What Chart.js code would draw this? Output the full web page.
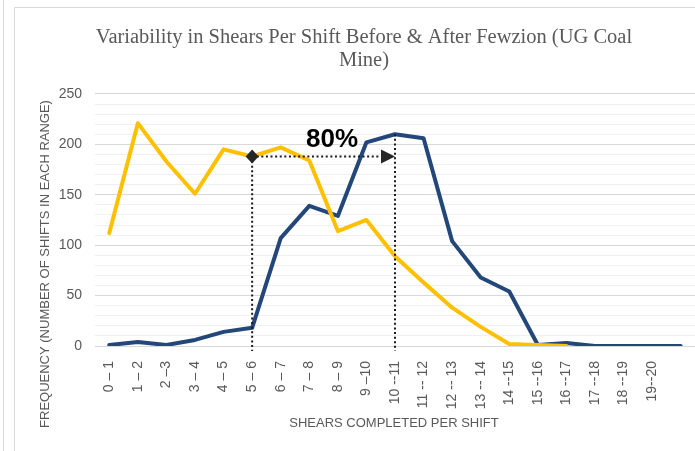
<!DOCTYPE html>
<html>
<head>
<meta charset="utf-8">
<script src="https://cdn.jsdelivr.net/npm/chart.js@4/dist/chart.umd.min.js"></script>
<style>
  html, body { margin: 0; padding: 0; background: #fff; }
  #wrap { width: 695px; height: 451px; }
</style>
</head>
<body>
<div id="wrap"><canvas id="chart" width="695" height="451"></canvas></div>
<script>
// shear ranges (last slot has no label in the original)
const ranges = [
  '0 \u2013 1', '1 \u2013 2', '2 \u20133', '3 \u2013 4', '4 \u2013 5', '5 \u2013 6',
  '6 \u2013 7', '7 \u2013 8', '8 \u2013 9', '9 \u201310', '10 --11', '11 -- 12',
  '12 -- 13', '13 -- 14', '14 --15', '15 --16', '16 --17', '17 --18', '18 --19',
  '19--20', ''
];
// yellow line disappears under the blue one after 16-17
const beforeFewzion = [112, 221, 183, 151, 195, 188, 197, 184, 114, 125, 89, 63, 38, 19, 2, 1, 0, null, null, null, null];
const afterFewzion  = [1, 4, 1, 6, 14, 18, 107, 139, 129, 202, 210, 206, 104, 68, 54, 1, 3, 0, 0, 0, 0];
const yTicks = [0, 50, 100, 150, 200, 250];

// the "80%" marker: from range 5-6 to range 10-11
const markFrom = 5;
const markTo = 10;
const markLevel = 188;
const markTop = 210;
const markText = '80%';

const xTitle = 'SHEARS COMPLETED PER SHIFT';
const yTitle = 'FREQUENCY (NUMBER OF SHIFTS IN EACH RANGE)';

const greyText = '#595959';
const axisFont = "'Liberation Sans', sans-serif";

const framePlugin = {
  id: 'frame',
  beforeDraw(chart) {
    const c = chart.ctx;
    c.save();
    c.fillStyle = '#fff';
    c.fillRect(0, 0, chart.width, chart.height);
    c.strokeStyle = '#d9d9d9';
    c.lineWidth = 1;
    c.beginPath();
    c.moveTo(3.5, 0); c.lineTo(3.5, chart.height);
    c.moveTo(14.5, chart.height); c.lineTo(14.5, 7.5); c.lineTo(chart.width, 7.5);
    c.stroke();
    c.restore();
  },
  afterDraw(chart) {
    // axis titles, placed like the office chart (not centred on the plot)
    const c = chart.ctx;
    c.save();
    c.fillStyle = greyText;
    c.font = '13px ' + axisFont;
    c.textAlign = 'center';
    c.textBaseline = 'middle';
    c.fillText(xTitle, 394, 423);
    c.translate(45, 264);
    c.rotate(-Math.PI / 2);
    c.fillText(yTitle, 0, 0);
    c.restore();
  }
};

const markerPlugin = {
  id: 'marker',
  afterDatasetsDraw(chart) {
    const c = chart.ctx;
    const x = chart.scales.x, y = chart.scales.y;
    const xs = x.getPixelForValue(markFrom);
    const xe = x.getPixelForValue(markTo);
    const yl = y.getPixelForValue(markLevel);
    const yt = y.getPixelForValue(markTop);
    const yb = y.bottom + 5;
    c.save();
    c.strokeStyle = '#1a1a1a';
    c.fillStyle = '#262626';
    c.lineWidth = 2;
    c.setLineDash([2, 2.6]);
    c.beginPath();
    c.moveTo(xs, yl); c.lineTo(xs, yb);
    c.moveTo(xe, yt); c.lineTo(xe, yb);
    c.moveTo(xs, yl); c.lineTo(xe - 14, yl);
    c.stroke();
    c.setLineDash([]);
    // diamond start
    c.beginPath();
    c.moveTo(xs, yl - 7); c.lineTo(xs + 6.5, yl); c.lineTo(xs, yl + 7); c.lineTo(xs - 6.5, yl);
    c.closePath(); c.fill();
    // arrow head
    c.beginPath();
    c.moveTo(xe, yl); c.lineTo(xe - 14, yl - 7); c.lineTo(xe - 14, yl + 7);
    c.closePath(); c.fill();
    // label
    c.fillStyle = '#000';
    c.font = "bold 26px 'Liberation Sans', sans-serif";
    c.textAlign = 'center';
    c.textBaseline = 'alphabetic';
    c.fillText(markText, xs + (xe - xs) * 0.56, yl - 9);
    c.restore();
  }
};

new Chart(document.getElementById('chart'), {
  type: 'line',
  data: {
    labels: ranges,
    datasets: [
      {
        label: 'Before Fewzion',
        data: beforeFewzion,
        borderColor: '#ffc000',
        borderWidth: 4,
        pointRadius: 0,
        tension: 0,
        borderJoinStyle: 'round',
        borderCapStyle: 'round'
      },
      {
        label: 'After Fewzion',
        data: afterFewzion,
        borderColor: '#24477a',
        borderWidth: 4,
        pointRadius: 0,
        tension: 0,
        borderJoinStyle: 'round',
        borderCapStyle: 'round'
      }
    ]
  },
  options: {
    responsive: false,
    animation: false,
    devicePixelRatio: 1,
    layout: { padding: { left: 33, top: 26, right: 0, bottom: 14 } },
    plugins: {
      legend: { display: false },
      tooltip: { enabled: false },
      title: {
        display: true,
        text: ['Variability in Shears Per Shift Before & After Fewzion (UG Coal', 'Mine)'],
        color: greyText,
        font: { family: "'Liberation Serif', serif", size: 20.5, weight: 'normal', lineHeight: 1.12 },
        padding: { top: 0, bottom: 22 }
      }
    },
    scales: {
      x: {
        offset: true,
        grid: { display: false, drawTicks: false },
        border: { display: false },
        ticks: {
          autoSkip: false,
          minRotation: 90,
          maxRotation: 90,
          padding: 15,
          color: greyText,
          font: { family: axisFont, size: 14 }
        },
        afterFit(s) {
          s.height = 451 - 14 - 346;
          s.paddingLeft = 0;
          s.paddingRight = 0;
        }
      },
      y: {
        min: 0,
        max: 250,
        border: { display: false },
        grid: {
          drawTicks: false,
          color: ctx => (yTicks.includes(ctx.tick.value) ? '#d9d9d9' : '#f0f0f0'),
          lineWidth: 1
        },
        ticks: {
          stepSize: 10,
          autoSkip: false,
          padding: 13,
          color: greyText,
          font: { family: axisFont, size: 14 },
          callback: v => (yTicks.includes(v) ? v : '')
        },
        afterFit(s) {
          s.width = 95 - 33;
          s.paddingTop = 0;
          s.paddingBottom = 0;
        }
      }
    }
  },
  plugins: [framePlugin, markerPlugin]
});
</script>
</body>
</html>
